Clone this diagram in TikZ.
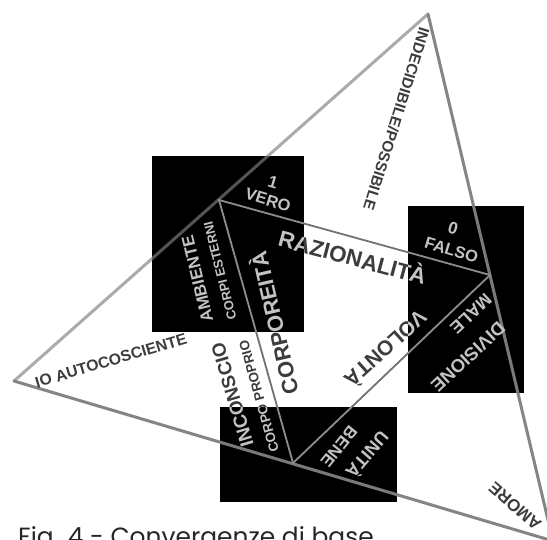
\documentclass[tikz,border=0pt]{standalone}
\usepackage{fontspec}
\setmainfont{Liberation Sans}
\newfontfamily\capfont{Poppins}
\definecolor{txtgray}{HTML}{3C3C3C}
\definecolor{edgelight}{HTML}{ABABAB}
\definecolor{edgemid}{HTML}{858585}
\definecolor{innerline}{HTML}{727272}
\definecolor{captext}{HTML}{262626}
\begin{document}
\begin{tikzpicture}[x=1bp,y=-1bp,
  lbl/.style={text=txtgray, inner sep=0pt, font=\bfseries\fontsize{#1}{#1}\selectfont},
  outeredge/.style={line width=3bp, line cap=round, line join=round},
  inneredge/.style={draw=innerline, line width=1.8bp, line cap=round}]
\useasboundingbox (0,0) rectangle (547,540);
\clip (0,0) rectangle (547,540);
\fill[white] (0,0) rectangle (547,540);
% outer triangle
\coordinate (T) at (428,14);
\coordinate (L) at (14,381);
\coordinate (R) at (553,541);
% inner triangle
\coordinate (V) at (219,200);
\coordinate (F) at (490,275);
\coordinate (U) at (293,463);
\draw[outeredge, draw=edgelight] (L) -- (T);
\draw[outeredge, draw=edgemid] (T) -- (R) -- (L);
\draw[inneredge] (V) -- (F);
\draw[inneredge] (F) -- (U);
\draw[inneredge] (V) -- (U);
% labels
\node[lbl=15.5, rotate=-107.4] (indec) at (396.5,119) {INDECIDIBILE/POSSIBILE};
\node[lbl=17, rotate=-17] (one) at (273,182) {1};
\node[lbl=16.5, rotate=-17] (vero) at (268,200) {VERO};
\node[lbl=22.5, rotate=-15] (raz) at (353,256) {RAZIONALITÀ};
\node[lbl=17, rotate=-17] (zero) at (453,228) {0};
\node[lbl=16.5, rotate=-17] (falso) at (451.5,250) {FALSO};
\node[lbl=17, rotate=103.5] (amb) at (197.5,279) {AMBIENTE};
\node[lbl=13, rotate=104] (cest) at (220,271) {CORPI ESTERNI};
\node[lbl=22, rotate=103] (corp) at (273,323) {CORPOREITÀ};
\node[lbl=19, rotate=106.5] (incon) at (232.5,395) {INCONSCIO};
\node[lbl=13.5, rotate=105.8] (cprop) at (259,396.5) {CORPO PROPRIO};
\node[lbl=21, rotate=-138] (vol) at (386.5,350) {VOLONTÀ};
\node[lbl=18.5, rotate=-137] (div) at (468,357) {DIVISIONE};
\node[lbl=17.5, rotate=-137] (male) at (471,314) {MALE};
\node[lbl=18, rotate=-131] (unita) at (368.3,455.8) {UNITÀ};
\node[lbl=17, rotate=-129] (bene) at (339,446.7) {BENE};
\node[lbl=17, rotate=139] (amore) at (515,506) {AMORE};
\node[lbl=15.8, rotate=16.5] (io) at (111,360.5) {IO AUTOCOSCIENTE};
\node[font=\capfont\fontsize{25}{25}\selectfont, anchor=base west, text=captext, inner sep=0pt] (cap) at (18,545) {Fig. 4 - Convergenze di base};
% inverted (black) panels
\begin{scope}[blend mode=difference]
\fill[white] (152,156) rectangle (304,332);
\fill[white] (408,206) rectangle (524,393);
\fill[white] (220,407) rectangle (397,502);
\end{scope}
\end{tikzpicture}
\end{document}
